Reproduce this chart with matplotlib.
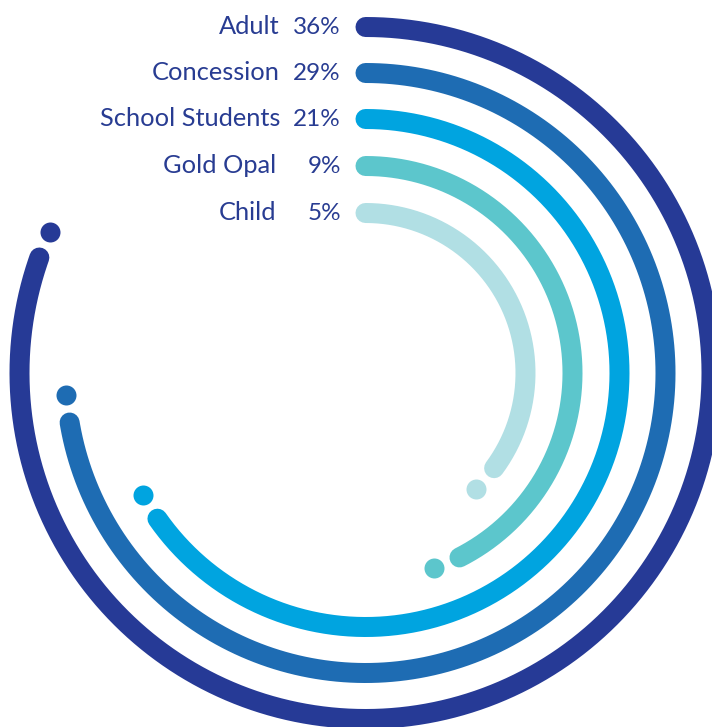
import numpy as np
import matplotlib
matplotlib.use('Agg')
import matplotlib.pyplot as plt

# ticket types, share and how far round each arc goes (degrees)
labels = ['Adult', 'Concession', 'School Students', 'Gold Opal', 'Child']
shares = [36, 29, 21, 9, 5]
sweeps = [289.5, 260.5, 235, 153, 126.5]
colors = ['#263a96', '#1e6cb3', '#00a4e0', '#5cc6cc', '#b1dfe4']
text_color = '#283c92'

W, H = 712, 727
cx, cy = 365.5, 373.0          # centre of the rings in pixels
radii = [346, 300, 254, 207, 160]
lw_px = 20
gap_px = 28                     # distance along the ring from arc end to the dot
R = 400

fig = plt.figure(figsize=(W / 100, H / 100), dpi=100)
ax = fig.add_axes([(cx - R) / W, (H - cy - R) / H, 2 * R / W, 2 * R / H],
                  projection='polar')
ax.set_theta_zero_location('N')
ax.set_theta_direction(-1)
ax.set_ylim(0, R)
ax.axis('off')

lw = lw_px * 72 / 100
for r, sw, c in zip(radii, sweeps, colors):
    th = np.radians(np.linspace(0, sw, 400))
    ax.plot(th, np.full_like(th, r), color=c, lw=lw, solid_capstyle='round',
            clip_on=False)
    dot = np.radians(sw) + gap_px / r
    ax.plot([dot], [r], 'o', color=c, ms=lw, mec='none', clip_on=False)

for lab, s, r in zip(labels, shares, radii):
    ytop = cy - r
    xname = 280 if s >= 10 else 276
    fig.text(xname / W, 1 - (ytop + 7) / H, lab, ha='right', va='baseline',
             fontsize=18.3, color=text_color, family='Lato')
    fig.text(341 / W, 1 - (ytop + 7) / H, f'{s}%', ha='right', va='baseline',
             fontsize=17.5, color=text_color, family='Lato')

plt.savefig('out.png', dpi=100)
